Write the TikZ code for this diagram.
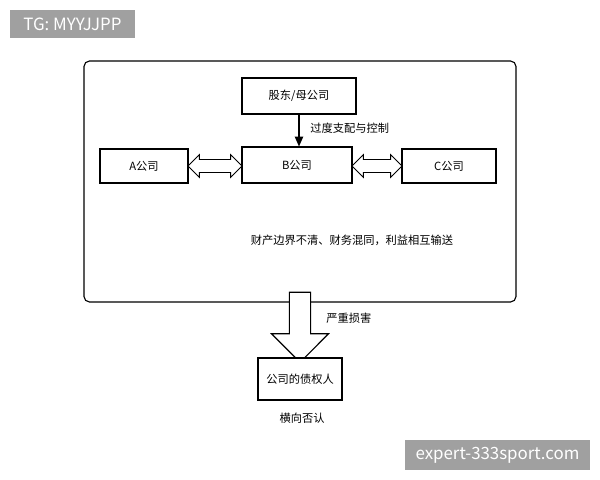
\documentclass[tikz,border=0pt]{standalone}
\usepackage{fontspec}
\setmainfont{Noto Sans CJK SC}
\usetikzlibrary{shapes.arrows,arrows.meta}
\definecolor{tag}{RGB}{160,160,160}
\tikzstyle{box} = [rectangle, draw=black, line width=0.8pt, fill=white, font=\footnotesize, inner sep=0pt]
\tikzstyle{dbl} = [double arrow, draw=black, line width=0.6pt, fill=white, double arrow head extend=0.125cm, minimum height=1.35cm, inner sep=0.15cm]
\tikzstyle{lbl} = [font=\footnotesize, inner sep=0pt]
\tikzstyle{tagbox} = [rectangle, fill=tag, text=white, inner sep=0pt, font=\large]
\begin{document}
\begin{tikzpicture}[x=0.025cm, y=-0.025cm]
\useasboundingbox (0,0) rectangle (600,480);
\node (tg) [tagbox, minimum width=3.125cm, minimum height=0.7cm] at (72.5,24) {TG: MYYJJPP};
\node (frame) [draw=black, line width=0.8pt, rounded corners=4pt, minimum width=10.8cm, minimum height=6.025cm] at (300,181.5) {};
\node (parent) [box, minimum width=2.85cm, minimum height=0.9cm] at (299,96) {股东/母公司};
\node (b) [box, minimum width=2.75cm, minimum height=0.9cm] at (297,165) {B公司};
\node (a) [box, minimum width=2.2cm, minimum height=0.85cm] at (144,166) {A公司};
\node (c) [box, minimum width=2.35cm, minimum height=0.85cm] at (449,166) {C公司};
\draw[line width=0.8pt, -{Triangle[length=7pt,width=6pt]}] (parent) -- (b.north -| parent);
\node[lbl, anchor=west] at (310,128) {过度支配与控制};
\node (ab) [dbl] at (215,166) {};
\node (bc) [dbl, minimum height=1.25cm] at (377,166) {};
\node[lbl] at (352,240) {财产边界不清、财务混同，利益相互输送};
\node (down) [single arrow, draw=black, line width=0.8pt, fill=white, shape border rotate=270, minimum height=1.75cm, single arrow head extend=0.45cm, inner sep=0.25cm] at (300,322) {};
\node[lbl, anchor=west] at (326,318) {严重损害};
\node (cred) [box, minimum width=2.1cm, minimum height=1.05cm] at (300,379) {公司的债权人};
\node[lbl] at (302,418) {横向否认};
\node (wm) [tagbox, minimum width=4.625cm, minimum height=0.75cm] at (497.5,455) {expert-333sport.com};
\end{tikzpicture}
\end{document}
